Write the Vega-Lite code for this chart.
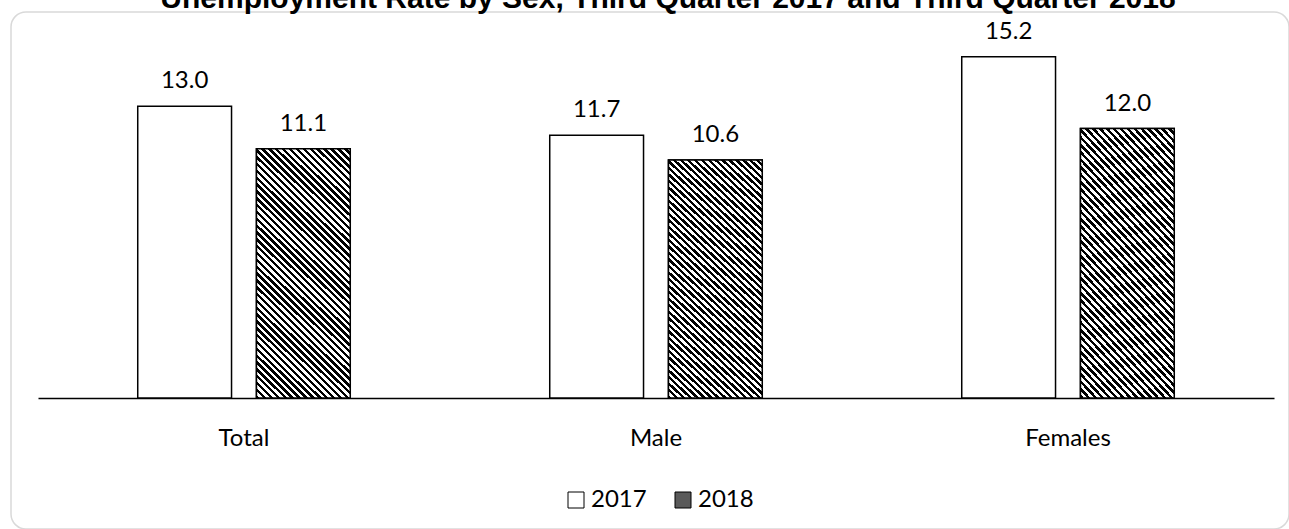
{
  "$schema": "https://vega.github.io/schema/vega-lite/v6.json",
  "width": 1278,
  "height": 517,
  "autosize": {"type": "none"},
  "padding": {"left": 11, "top": 12, "right": 0, "bottom": 0},
  "title": {
    "text": "Unemployment Rate by Sex, Third Quarter 2017 and Third Quarter 2018",
    "font": "Liberation Sans",
    "fontSize": 30,
    "fontWeight": "bold",
    "color": "#000000",
    "anchor": "middle",
    "dx": 18,
    "dy": 31,
    "offset": 5,
    "baseline": "alphabetic"
  },
  "config": {
    "view": {"stroke": "#d9d9d9", "strokeWidth": 1.5, "cornerRadius": 15},
    "font": "Lato"
  },
  "data": {
    "values": [
      {"sex": "Total", "year": "2017", "rate": 13.0},
      {"sex": "Total", "year": "2018", "rate": 11.1},
      {"sex": "Male", "year": "2017", "rate": 11.7},
      {"sex": "Male", "year": "2018", "rate": 10.6},
      {"sex": "Females", "year": "2017", "rate": 15.2},
      {"sex": "Females", "year": "2018", "rate": 12.0}
    ]
  },
  "encoding": {
    "x": {
      "field": "sex",
      "type": "nominal",
      "sort": ["Total", "Male", "Females"],
      "scale": {"range": [27, 1263], "paddingInner": 0, "paddingOuter": 0},
      "axis": {
        "orient": "bottom",
        "offset": -131,
        "title": null,
        "ticks": false,
        "grid": false,
        "domainColor": "#000000",
        "domainWidth": 1.5,
        "labelFont": "Lato",
        "labelFontSize": 24,
        "labelColor": "#000000",
        "labelAngle": 0,
        "labelBaseline": "alphabetic",
        "labelPadding": 47
      }
    },
    "xOffset": {
      "field": "year",
      "type": "nominal",
      "scale": {"paddingInner": 0.21, "paddingOuter": 0.84}
    },
    "y": {
      "field": "rate",
      "type": "quantitative",
      "scale": {"domain": [-5.835, 17.194], "nice": false, "zero": false},
      "axis": null
    }
  },
  "layer": [
    {
      "mark": {"type": "bar", "stroke": "#000000", "strokeWidth": 1.5},
      "encoding": {
        "y2": {"datum": 0},
        "fill": {
          "field": "year",
          "type": "nominal",
          "scale": {"range": ["#ffffff", "#5a5a5a"]},
          "legend": {
            "orient": "none",
            "legendX": 553,
            "legendY": 476,
            "direction": "horizontal",
            "title": null,
            "symbolType": "square",
            "symbolSize": 256,
            "symbolStrokeColor": "#000000",
            "symbolStrokeWidth": 1,
            "labelFont": "Lato",
            "labelFontSize": 24,
            "labelColor": "#000000",
            "labelOffset": 3,
            "columnPadding": 24,
            "padding": 0
          }
        }
      }
    },
    {
      "transform": [{"filter": "datum.year == '2018'"}],
      "mark": {
        "type": "bar",
        "stroke": "#000000",
        "strokeWidth": 1.5,
        "fill": {
          "gradient": "linear",
          "x1": 0, "y1": 1, "x2": 0.4496, "y2": -0.2053,
          "stops": [
            {"offset":0,"color":"#000"},{"offset":0.01,"color":"#000"},
            {"offset":0.01,"color":"#fff"},{"offset":0.02,"color":"#fff"},
            {"offset":0.02,"color":"#000"},{"offset":0.03,"color":"#000"},
            {"offset":0.03,"color":"#fff"},{"offset":0.04,"color":"#fff"},
            {"offset":0.04,"color":"#000"},{"offset":0.05,"color":"#000"},
            {"offset":0.05,"color":"#fff"},{"offset":0.06,"color":"#fff"},
            {"offset":0.06,"color":"#000"},{"offset":0.07,"color":"#000"},
            {"offset":0.07,"color":"#fff"},{"offset":0.08,"color":"#fff"},
            {"offset":0.08,"color":"#000"},{"offset":0.09,"color":"#000"},
            {"offset":0.09,"color":"#fff"},{"offset":0.1,"color":"#fff"},
            {"offset":0.1,"color":"#000"},{"offset":0.11,"color":"#000"},
            {"offset":0.11,"color":"#fff"},{"offset":0.12,"color":"#fff"},
            {"offset":0.12,"color":"#000"},{"offset":0.13,"color":"#000"},
            {"offset":0.13,"color":"#fff"},{"offset":0.14,"color":"#fff"},
            {"offset":0.14,"color":"#000"},{"offset":0.15,"color":"#000"},
            {"offset":0.15,"color":"#fff"},{"offset":0.16,"color":"#fff"},
            {"offset":0.16,"color":"#000"},{"offset":0.17,"color":"#000"},
            {"offset":0.17,"color":"#fff"},{"offset":0.18,"color":"#fff"},
            {"offset":0.18,"color":"#000"},{"offset":0.19,"color":"#000"},
            {"offset":0.19,"color":"#fff"},{"offset":0.2,"color":"#fff"},
            {"offset":0.2,"color":"#000"},{"offset":0.21,"color":"#000"},
            {"offset":0.21,"color":"#fff"},{"offset":0.22,"color":"#fff"},
            {"offset":0.22,"color":"#000"},{"offset":0.23,"color":"#000"},
            {"offset":0.23,"color":"#fff"},{"offset":0.24,"color":"#fff"},
            {"offset":0.24,"color":"#000"},{"offset":0.25,"color":"#000"},
            {"offset":0.25,"color":"#fff"},{"offset":0.26,"color":"#fff"},
            {"offset":0.26,"color":"#000"},{"offset":0.27,"color":"#000"},
            {"offset":0.27,"color":"#fff"},{"offset":0.28,"color":"#fff"},
            {"offset":0.28,"color":"#000"},{"offset":0.29,"color":"#000"},
            {"offset":0.29,"color":"#fff"},{"offset":0.3,"color":"#fff"},
            {"offset":0.3,"color":"#000"},{"offset":0.31,"color":"#000"},
            {"offset":0.31,"color":"#fff"},{"offset":0.32,"color":"#fff"},
            {"offset":0.32,"color":"#000"},{"offset":0.33,"color":"#000"},
            {"offset":0.33,"color":"#fff"},{"offset":0.34,"color":"#fff"},
            {"offset":0.34,"color":"#000"},{"offset":0.35,"color":"#000"},
            {"offset":0.35,"color":"#fff"},{"offset":0.36,"color":"#fff"},
            {"offset":0.36,"color":"#000"},{"offset":0.37,"color":"#000"},
            {"offset":0.37,"color":"#fff"},{"offset":0.38,"color":"#fff"},
            {"offset":0.38,"color":"#000"},{"offset":0.39,"color":"#000"},
            {"offset":0.39,"color":"#fff"},{"offset":0.4,"color":"#fff"},
            {"offset":0.4,"color":"#000"},{"offset":0.41,"color":"#000"},
            {"offset":0.41,"color":"#fff"},{"offset":0.42,"color":"#fff"},
            {"offset":0.42,"color":"#000"},{"offset":0.43,"color":"#000"},
            {"offset":0.43,"color":"#fff"},{"offset":0.44,"color":"#fff"},
            {"offset":0.44,"color":"#000"},{"offset":0.45,"color":"#000"},
            {"offset":0.45,"color":"#fff"},{"offset":0.46,"color":"#fff"},
            {"offset":0.46,"color":"#000"},{"offset":0.47,"color":"#000"},
            {"offset":0.47,"color":"#fff"},{"offset":0.48,"color":"#fff"},
            {"offset":0.48,"color":"#000"},{"offset":0.49,"color":"#000"},
            {"offset":0.49,"color":"#fff"},{"offset":0.5,"color":"#fff"},
            {"offset":0.5,"color":"#000"},{"offset":0.51,"color":"#000"},
            {"offset":0.51,"color":"#fff"},{"offset":0.52,"color":"#fff"},
            {"offset":0.52,"color":"#000"},{"offset":0.53,"color":"#000"},
            {"offset":0.53,"color":"#fff"},{"offset":0.54,"color":"#fff"},
            {"offset":0.54,"color":"#000"},{"offset":0.55,"color":"#000"},
            {"offset":0.55,"color":"#fff"},{"offset":0.56,"color":"#fff"},
            {"offset":0.56,"color":"#000"},{"offset":0.57,"color":"#000"},
            {"offset":0.57,"color":"#fff"},{"offset":0.58,"color":"#fff"},
            {"offset":0.58,"color":"#000"},{"offset":0.59,"color":"#000"},
            {"offset":0.59,"color":"#fff"},{"offset":0.6,"color":"#fff"},
            {"offset":0.6,"color":"#000"},{"offset":0.61,"color":"#000"},
            {"offset":0.61,"color":"#fff"},{"offset":0.62,"color":"#fff"},
            {"offset":0.62,"color":"#000"},{"offset":0.63,"color":"#000"},
            {"offset":0.63,"color":"#fff"},{"offset":0.64,"color":"#fff"},
            {"offset":0.64,"color":"#000"},{"offset":0.65,"color":"#000"},
            {"offset":0.65,"color":"#fff"},{"offset":0.66,"color":"#fff"},
            {"offset":0.66,"color":"#000"},{"offset":0.67,"color":"#000"},
            {"offset":0.67,"color":"#fff"},{"offset":0.68,"color":"#fff"},
            {"offset":0.68,"color":"#000"},{"offset":0.69,"color":"#000"},
            {"offset":0.69,"color":"#fff"},{"offset":0.7,"color":"#fff"},
            {"offset":0.7,"color":"#000"},{"offset":0.71,"color":"#000"},
            {"offset":0.71,"color":"#fff"},{"offset":0.72,"color":"#fff"},
            {"offset":0.72,"color":"#000"},{"offset":0.73,"color":"#000"},
            {"offset":0.73,"color":"#fff"},{"offset":0.74,"color":"#fff"},
            {"offset":0.74,"color":"#000"},{"offset":0.75,"color":"#000"},
            {"offset":0.75,"color":"#fff"},{"offset":0.76,"color":"#fff"},
            {"offset":0.76,"color":"#000"},{"offset":0.77,"color":"#000"},
            {"offset":0.77,"color":"#fff"},{"offset":0.78,"color":"#fff"},
            {"offset":0.78,"color":"#000"},{"offset":0.79,"color":"#000"},
            {"offset":0.79,"color":"#fff"},{"offset":0.8,"color":"#fff"},
            {"offset":0.8,"color":"#000"},{"offset":0.81,"color":"#000"},
            {"offset":0.81,"color":"#fff"},{"offset":0.82,"color":"#fff"},
            {"offset":0.82,"color":"#000"},{"offset":0.83,"color":"#000"},
            {"offset":0.83,"color":"#fff"},{"offset":0.84,"color":"#fff"},
            {"offset":0.84,"color":"#000"},{"offset":0.85,"color":"#000"},
            {"offset":0.85,"color":"#fff"},{"offset":0.86,"color":"#fff"},
            {"offset":0.86,"color":"#000"},{"offset":0.87,"color":"#000"},
            {"offset":0.87,"color":"#fff"},{"offset":0.88,"color":"#fff"},
            {"offset":0.88,"color":"#000"},{"offset":0.89,"color":"#000"},
            {"offset":0.89,"color":"#fff"},{"offset":0.9,"color":"#fff"},
            {"offset":0.9,"color":"#000"},{"offset":0.91,"color":"#000"},
            {"offset":0.91,"color":"#fff"},{"offset":0.92,"color":"#fff"},
            {"offset":0.92,"color":"#000"},{"offset":0.93,"color":"#000"},
            {"offset":0.93,"color":"#fff"},{"offset":0.94,"color":"#fff"},
            {"offset":0.94,"color":"#000"},{"offset":0.95,"color":"#000"},
            {"offset":0.95,"color":"#fff"},{"offset":0.96,"color":"#fff"},
            {"offset":0.96,"color":"#000"},{"offset":0.97,"color":"#000"},
            {"offset":0.97,"color":"#fff"},{"offset":0.98,"color":"#fff"},
            {"offset":0.98,"color":"#000"},{"offset":0.99,"color":"#000"},
            {"offset":0.99,"color":"#fff"},{"offset":1,"color":"#fff"}
          ]
        }
      },
      "encoding": {"y2": {"datum": 0}}
    },
    {
      "mark": {
        "type": "text",
        "baseline": "alphabetic",
        "dy": -18,
        "font": "Lato",
        "fontSize": 24,
        "color": "#000000"
      },
      "encoding": {"text": {"field": "rate", "type": "quantitative", "format": ".1f"}}
    }
  ]
}
